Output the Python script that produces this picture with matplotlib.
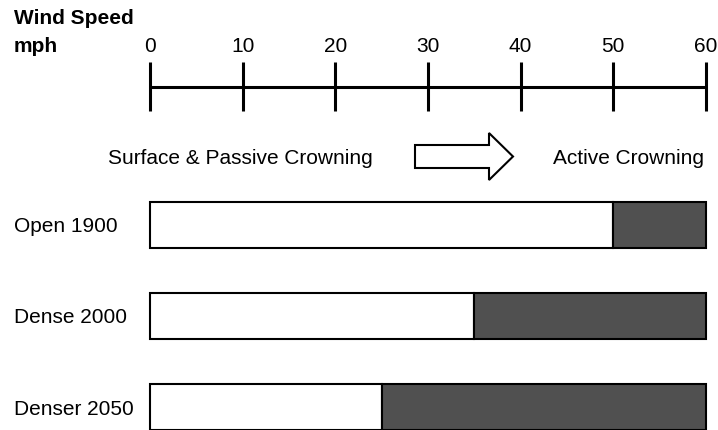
import matplotlib
matplotlib.use("Agg")
import matplotlib.pyplot as plt
from matplotlib.patches import FancyArrow

plt.rcParams['font.family'] = ['Liberation Sans', 'DejaVu Sans']

# wind speed (mph) at which each stand switches to active crowning
stands = ['Open 1900', 'Dense 2000', 'Denser 2050']
threshold = [50, 35, 25]
max_speed = 60
ticks = [0, 10, 20, 30, 40, 50, 60]

W, H = 718, 431
x0, ppu = 150, 9.265   # pixel of 0 mph, pixels per mph

fig = plt.figure(figsize=(W / 100, H / 100), dpi=100)
ax = fig.add_axes([0, 0, 1, 1])
ax.set_xlim(-x0 / ppu, (W - x0) / ppu)
ax.set_ylim(H, 0)
ax.axis('off')

def px(p):
    return (p - x0) / ppu

fs = 15

# wind speed scale
ax.text(px(14), 19, 'Wind Speed', fontsize=fs, fontweight='bold', va='center', ha='left')
ax.text(px(14), 47, 'mph', fontsize=fs, fontweight='bold', va='center', ha='left')
ax.hlines(88, 0, max_speed, color='black', lw=2.2)
ax.vlines(ticks, 63, 112, color='black', lw=2.2)
for t in ticks:
    ax.text(t, 47, str(t), fontsize=fs, ha='center', va='center')

# fire type labels and arrow
ax.text(px(108), 159, 'Surface & Passive Crowning', fontsize=fs, ha='left', va='center')
ax.text(px(704), 159, 'Active Crowning', fontsize=fs, ha='right', va='center')
arr = FancyArrow(px(415), 157.5, px(513) - px(415), 0, width=23, head_width=47,
                 head_length=px(513) - px(489), length_includes_head=True,
                 facecolor='white', edgecolor='black', lw=1.5)
ax.add_patch(arr)

# stand bars
ys = [225.5, 317, 408.5]
for name, th, y in zip(stands, threshold, ys):
    ax.barh(y, th, height=46, left=0, color='white', edgecolor='black', lw=1.5)
    ax.barh(y, max_speed - th, height=46, left=th, color='#505050', edgecolor='black', lw=1.5)
    ax.text(px(14), y + 1, name, fontsize=fs, ha='left', va='center')

fig.savefig('out.png', dpi=100)
